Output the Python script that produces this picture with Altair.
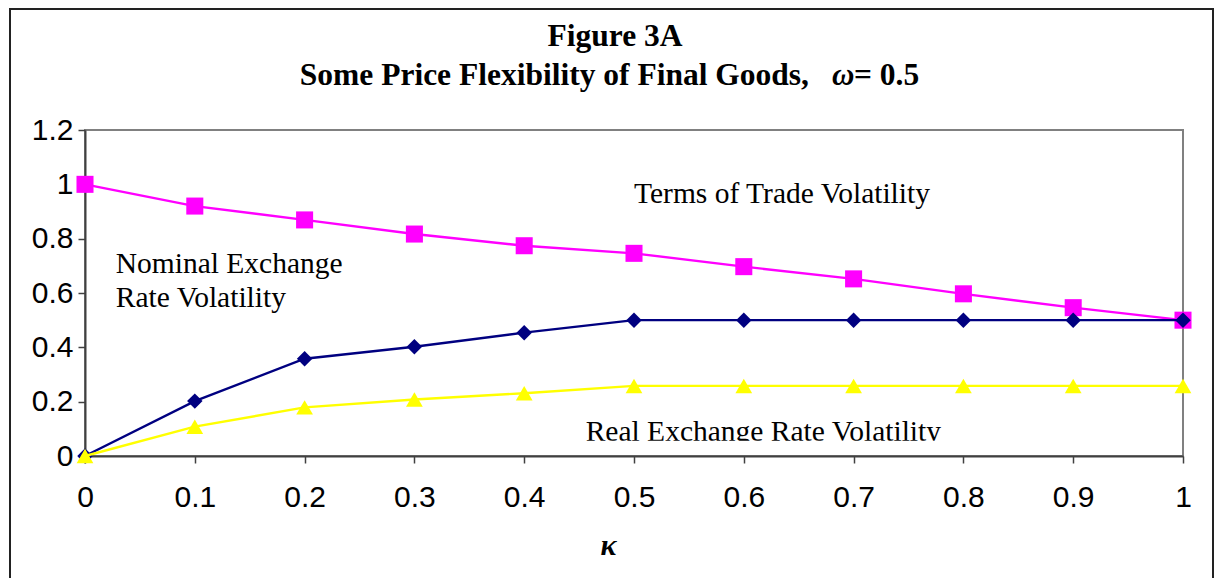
import altair as alt
import pandas as pd

# ---- data ----
kappa = [0.0, 0.1, 0.2, 0.3, 0.4, 0.5, 0.6, 0.7, 0.8, 0.9, 1.0]
terms_of_trade = [1.0, 0.92, 0.869, 0.817, 0.774, 0.746, 0.697, 0.652, 0.597, 0.546, 0.5]
nominal_er = [0.0, 0.202, 0.358, 0.402, 0.454, 0.5, 0.5, 0.5, 0.5, 0.5, 0.5]
real_er = [0.0, 0.108, 0.179, 0.208, 0.231, 0.258, 0.258, 0.258, 0.258, 0.258, 0.258]

series_names = ["Terms of Trade", "Nominal Exchange Rate", "Real Exchange Rate"]
series_colors = ["#FF00FF", "#000080", "#FFFF00"]
series_shapes = ["square", "diamond", "triangle-up"]
series_sizes = [290, 240, 280]

y_ticks = [0, 0.2, 0.4, 0.6, 0.8, 1, 1.2]
x_ticks = [0, 0.1, 0.2, 0.3, 0.4, 0.5, 0.6, 0.7, 0.8, 0.9, 1]

title_line1 = "Figure 3A"
title_line2a = "Some Price Flexibility of Final Goods,"
title_omega = "ω"
title_line2b = "= 0.5"
x_title = "κ"

ann_text = ["Terms of Trade Volatility", "Nominal Exchange", "Rate Volatility",
            "Real Exchange Rate Volatility"]
ann_x = [0.5, 0.028, 0.028, 0.456]
ann_y = [0.931, 0.674, 0.55, 0.057]

# ---- tables ----
rows = []
for name, vals in zip(series_names, [terms_of_trade, nominal_er, real_er]):
    for k, v in zip(kappa, vals):
        rows.append({"kappa": k, "value": v, "series": name})
df = pd.DataFrame(rows)
ann_df = pd.DataFrame({"text": ann_text, "x": ann_x, "y": ann_y})

xscale = alt.Scale(domain=[0, 1], nice=False, zero=False)
yscale = alt.Scale(domain=[0, 1.2], nice=False)

x_enc = alt.X("kappa:Q", scale=xscale,
              axis=alt.Axis(values=x_ticks, format="~g", title=x_title,
                            titleFont="Liberation Serif", titleFontStyle="italic",
                            titleFontWeight="bold", titleFontSize=30,
                            titleX=523, titleY=98, titleBaseline="alphabetic",
                            titleAlign="center", titleColor="#000000",
                            labelPadding=19, labelFlush=False))
y_enc = alt.Y("value:Q", scale=yscale,
              axis=alt.Axis(values=y_ticks, format="~g", title=None, labelPadding=5,
                            labelFlush=False))

layers = []
for name, col, shp, sz in zip(series_names, series_colors, series_shapes, series_sizes):
    sub = df[df["series"] == name]
    line = alt.Chart(sub).mark_line(color=col, strokeWidth=2.4).encode(x=x_enc, y=y_enc)
    pts = alt.Chart(sub).mark_point(color=col, filled=True, opacity=1, shape=shp,
                                    size=sz).encode(x=x_enc, y=y_enc)
    layers += [line, pts]

ann = alt.Chart(ann_df).mark_text(font="Liberation Serif", fontSize=29.5, align="left",
                                  baseline="alphabetic", color="#000000").encode(
    x=alt.X("x:Q", scale=xscale), y=alt.Y("y:Q", scale=yscale), text="text:N")

# mask that trims the descenders of the lower label, as in the reference
mask_df = pd.DataFrame({"x": [0.445], "x2": [0.82], "y": [0.006], "y2": [0.056]})
mask = alt.Chart(mask_df).mark_rect(color="white").encode(
    x=alt.X("x:Q", scale=xscale), x2="x2:Q",
    y=alt.Y("y:Q", scale=yscale), y2="y2:Q")

def txt(s, x, y, align="center", style="normal", size=31):
    return alt.Chart(pd.DataFrame({"t": [s]})).mark_text(
        font="Liberation Serif", fontSize=size, fontWeight="bold", fontStyle=style,
        align=align, baseline="alphabetic", color="#000000").encode(
        text="t:N", x=alt.value(x), y=alt.value(y))

titles = [
    txt(title_line1, 530, -84.5, size=31.5),
    txt(title_line2a, 724, -45.5, align="right", size=31.5),
    txt(title_omega, 747, -45.5, align="left", style="italic", size=31),
    txt(title_line2b, 769, -45.5, align="left", size=31.5),
]

border = alt.Chart(pd.DataFrame({"a": [0]})).mark_rect(
    fill=None, stroke="#222222", strokeWidth=2).encode(
    x=alt.value(-75), x2=alt.value(1128), y=alt.value(-121), y2=alt.value(470))

chart = alt.layer(*layers, ann, mask, *titles, border).properties(
    width=1098, height=326,
    autosize=alt.AutoSizeParams(type="none"),
    padding={"left": 77, "top": 122, "right": 32, "bottom": 122},
    background="white",
).configure_view(
    stroke="#808080", strokeWidth=2
).configure_axis(
    grid=False, domainColor="#404040", domainWidth=2, tickColor="#404040",
    tickWidth=1.5, tickSize=7, labelFont="Liberation Sans", labelFontSize=30,
    labelColor="#000000", zindex=1
)

chart.save("out.html", embed_options={"renderer": "svg", "actions": False})
